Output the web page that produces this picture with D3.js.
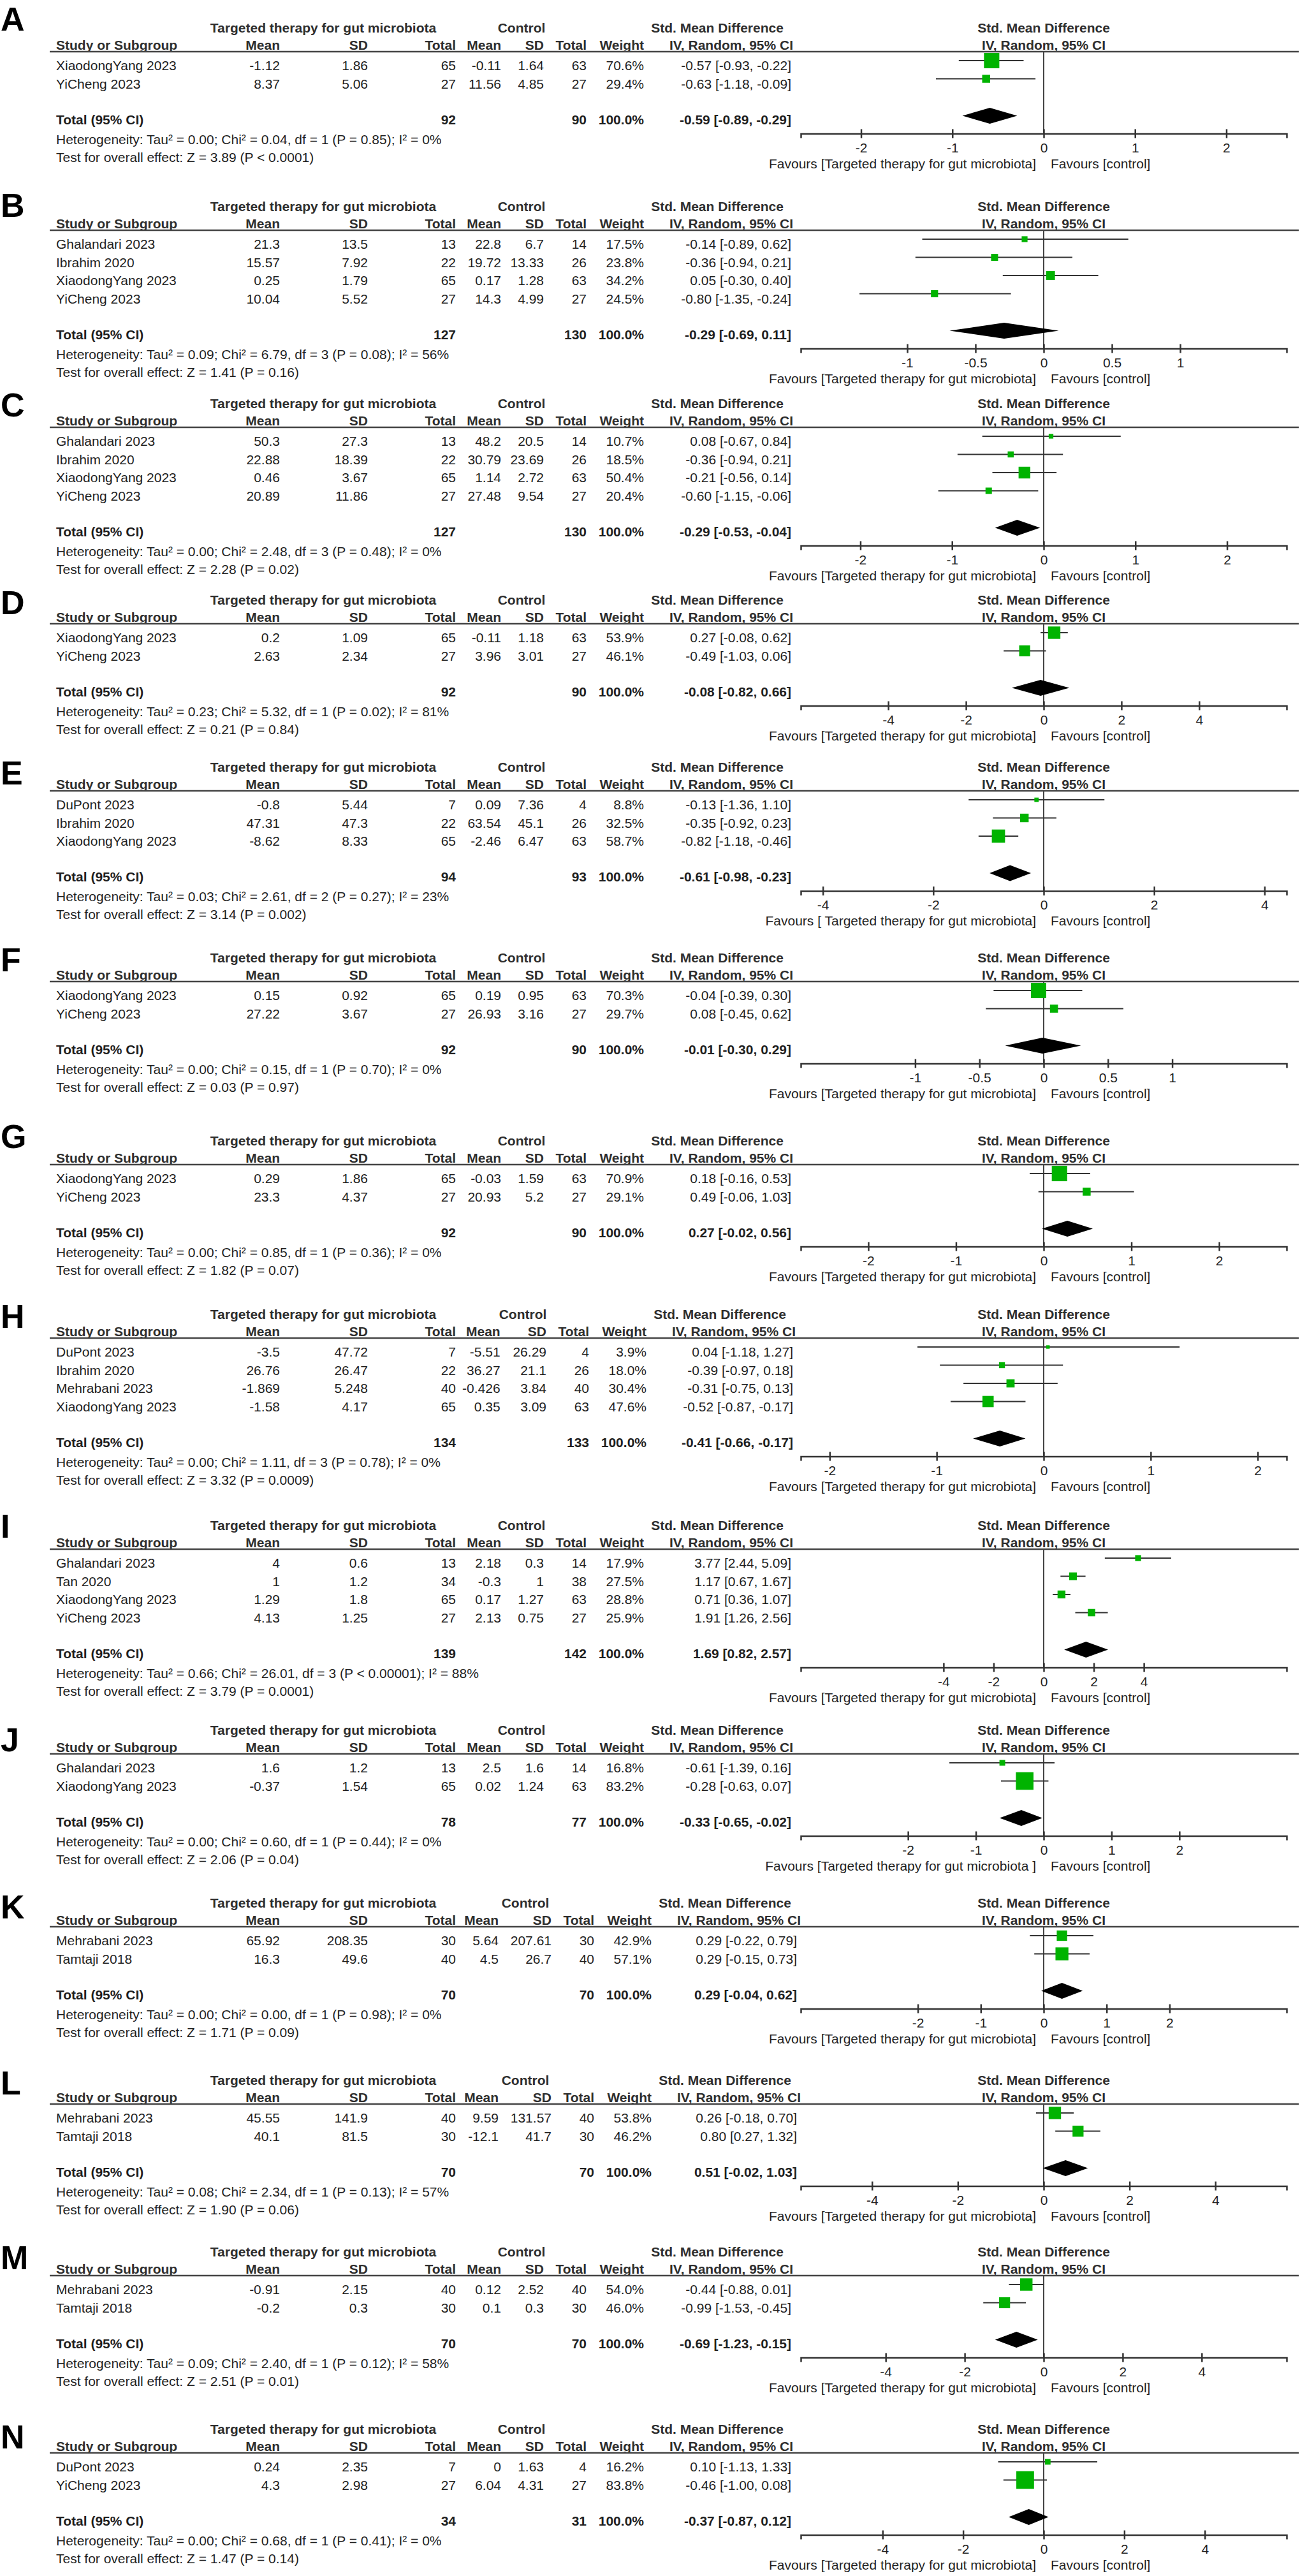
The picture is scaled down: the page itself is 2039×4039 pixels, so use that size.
<!DOCTYPE html>
<html lang="en">
<head>
<meta charset="UTF-8">
<title>Forest plots A-N</title>
<style>
  body { margin: 0; background: #fff; }
  svg text { font-family: 'Liberation Sans', Arial, sans-serif; fill: #1f1f1f; }
  .hd { font-weight: bold; fill: #2e2e2e; }
  .bold { font-weight: bold; }
  .letter { font-weight: bold; font-size: 52px; fill: #000; }
</style>
</head>
<body>
<div id="chart"></div>
<script src="https://d3js.org/d3.v7.min.js"></script>
<script>
// ---- data: rows are [study, mean, sd, total, mean ctrl, sd ctrl, total ctrl, weight, smd, lo, hi]
const rowsA = [
  ["XiaodongYang 2023", "-1.12", "1.86", 65, "-0.11", "1.64", 63, 70.6, -0.57, -0.93, -0.22],
  ["YiCheng 2023", "8.37", "5.06", 27, "11.56", "4.85", 27, 29.4, -0.63, -1.18, -0.09]
];
const totalA = [92, 90, -0.59, -0.89, -0.29];
const statsA = ["Heterogeneity: Tau² = 0.00; Chi² = 0.04, df = 1 (P = 0.85); I² = 0%", "Test for overall effect: Z = 3.89 (P < 0.0001)"];
const ticksA = [-2, -1, 0, 1, 2];

const rowsB = [
  ["Ghalandari 2023", "21.3", "13.5", 13, "22.8", "6.7", 14, 17.5, -0.14, -0.89, 0.62],
  ["Ibrahim 2020", "15.57", "7.92", 22, "19.72", "13.33", 26, 23.8, -0.36, -0.94, 0.21],
  ["XiaodongYang 2023", "0.25", "1.79", 65, "0.17", "1.28", 63, 34.2, 0.05, -0.30, 0.40],
  ["YiCheng 2023", "10.04", "5.52", 27, "14.3", "4.99", 27, 24.5, -0.80, -1.35, -0.24]
];
const totalB = [127, 130, -0.29, -0.69, 0.11];
const statsB = ["Heterogeneity: Tau² = 0.09; Chi² = 6.79, df = 3 (P = 0.08); I² = 56%", "Test for overall effect: Z = 1.41 (P = 0.16)"];
const ticksB = [-1, -0.5, 0, 0.5, 1];

const rowsC = [
  ["Ghalandari 2023", "50.3", "27.3", 13, "48.2", "20.5", 14, 10.7, 0.08, -0.67, 0.84],
  ["Ibrahim 2020", "22.88", "18.39", 22, "30.79", "23.69", 26, 18.5, -0.36, -0.94, 0.21],
  ["XiaodongYang 2023", "0.46", "3.67", 65, "1.14", "2.72", 63, 50.4, -0.21, -0.56, 0.14],
  ["YiCheng 2023", "20.89", "11.86", 27, "27.48", "9.54", 27, 20.4, -0.60, -1.15, -0.06]
];
const totalC = [127, 130, -0.29, -0.53, -0.04];
const statsC = ["Heterogeneity: Tau² = 0.00; Chi² = 2.48, df = 3 (P = 0.48); I² = 0%", "Test for overall effect: Z = 2.28 (P = 0.02)"];
const ticksC = [-2, -1, 0, 1, 2];

const rowsD = [
  ["XiaodongYang 2023", "0.2", "1.09", 65, "-0.11", "1.18", 63, 53.9, 0.27, -0.08, 0.62],
  ["YiCheng 2023", "2.63", "2.34", 27, "3.96", "3.01", 27, 46.1, -0.49, -1.03, 0.06]
];
const totalD = [92, 90, -0.08, -0.82, 0.66];
const statsD = ["Heterogeneity: Tau² = 0.23; Chi² = 5.32, df = 1 (P = 0.02); I² = 81%", "Test for overall effect: Z = 0.21 (P = 0.84)"];
const ticksD = [-4, -2, 0, 2, 4];

const rowsE = [
  ["DuPont 2023", "-0.8", "5.44", 7, "0.09", "7.36", 4, 8.8, -0.13, -1.36, 1.10],
  ["Ibrahim 2020", "47.31", "47.3", 22, "63.54", "45.1", 26, 32.5, -0.35, -0.92, 0.23],
  ["XiaodongYang 2023", "-8.62", "8.33", 65, "-2.46", "6.47", 63, 58.7, -0.82, -1.18, -0.46]
];
const totalE = [94, 93, -0.61, -0.98, -0.23];
const statsE = ["Heterogeneity: Tau² = 0.03; Chi² = 2.61, df = 2 (P = 0.27); I² = 23%", "Test for overall effect: Z = 3.14 (P = 0.002)"];
const ticksE = [-4, -2, 0, 2, 4];

const rowsF = [
  ["XiaodongYang 2023", "0.15", "0.92", 65, "0.19", "0.95", 63, 70.3, -0.04, -0.39, 0.30],
  ["YiCheng 2023", "27.22", "3.67", 27, "26.93", "3.16", 27, 29.7, 0.08, -0.45, 0.62]
];
const totalF = [92, 90, -0.01, -0.30, 0.29];
const statsF = ["Heterogeneity: Tau² = 0.00; Chi² = 0.15, df = 1 (P = 0.70); I² = 0%", "Test for overall effect: Z = 0.03 (P = 0.97)"];
const ticksF = [-1, -0.5, 0, 0.5, 1];

const rowsG = [
  ["XiaodongYang 2023", "0.29", "1.86", 65, "-0.03", "1.59", 63, 70.9, 0.18, -0.16, 0.53],
  ["YiCheng 2023", "23.3", "4.37", 27, "20.93", "5.2", 27, 29.1, 0.49, -0.06, 1.03]
];
const totalG = [92, 90, 0.27, -0.02, 0.56];
const statsG = ["Heterogeneity: Tau² = 0.00; Chi² = 0.85, df = 1 (P = 0.36); I² = 0%", "Test for overall effect: Z = 1.82 (P = 0.07)"];
const ticksG = [-2, -1, 0, 1, 2];

const rowsH = [
  ["DuPont 2023", "-3.5", "47.72", 7, "-5.51", "26.29", 4, 3.9, 0.04, -1.18, 1.27],
  ["Ibrahim 2020", "26.76", "26.47", 22, "36.27", "21.1", 26, 18.0, -0.39, -0.97, 0.18],
  ["Mehrabani 2023", "-1.869", "5.248", 40, "-0.426", "3.84", 40, 30.4, -0.31, -0.75, 0.13],
  ["XiaodongYang 2023", "-1.58", "4.17", 65, "0.35", "3.09", 63, 47.6, -0.52, -0.87, -0.17]
];
const totalH = [134, 133, -0.41, -0.66, -0.17];
const statsH = ["Heterogeneity: Tau² = 0.00; Chi² = 1.11, df = 3 (P = 0.78); I² = 0%", "Test for overall effect: Z = 3.32 (P = 0.0009)"];
const ticksH = [-2, -1, 0, 1, 2];

const rowsI = [
  ["Ghalandari 2023", "4", "0.6", 13, "2.18", "0.3", 14, 17.9, 3.77, 2.44, 5.09],
  ["Tan 2020", "1", "1.2", 34, "-0.3", "1", 38, 27.5, 1.17, 0.67, 1.67],
  ["XiaodongYang 2023", "1.29", "1.8", 65, "0.17", "1.27", 63, 28.8, 0.71, 0.36, 1.07],
  ["YiCheng 2023", "4.13", "1.25", 27, "2.13", "0.75", 27, 25.9, 1.91, 1.26, 2.56]
];
const totalI = [139, 142, 1.69, 0.82, 2.57];
const statsI = ["Heterogeneity: Tau² = 0.66; Chi² = 26.01, df = 3 (P < 0.00001); I² = 88%", "Test for overall effect: Z = 3.79 (P = 0.0001)"];
const ticksI = [-4, -2, 0, 2, 4];

const rowsJ = [
  ["Ghalandari 2023", "1.6", "1.2", 13, "2.5", "1.6", 14, 16.8, -0.61, -1.39, 0.16],
  ["XiaodongYang 2023", "-0.37", "1.54", 65, "0.02", "1.24", 63, 83.2, -0.28, -0.63, 0.07]
];
const totalJ = [78, 77, -0.33, -0.65, -0.02];
const statsJ = ["Heterogeneity: Tau² = 0.00; Chi² = 0.60, df = 1 (P = 0.44); I² = 0%", "Test for overall effect: Z = 2.06 (P = 0.04)"];
const ticksJ = [-2, -1, 0, 1, 2];

const rowsK = [
  ["Mehrabani 2023", "65.92", "208.35", 30, "5.64", "207.61", 30, 42.9, 0.29, -0.22, 0.79],
  ["Tamtaji 2018", "16.3", "49.6", 40, "4.5", "26.7", 40, 57.1, 0.29, -0.15, 0.73]
];
const totalK = [70, 70, 0.29, -0.04, 0.62];
const statsK = ["Heterogeneity: Tau² = 0.00; Chi² = 0.00, df = 1 (P = 0.98); I² = 0%", "Test for overall effect: Z = 1.71 (P = 0.09)"];
const ticksK = [-2, -1, 0, 1, 2];

const rowsL = [
  ["Mehrabani 2023", "45.55", "141.9", 40, "9.59", "131.57", 40, 53.8, 0.26, -0.18, 0.70],
  ["Tamtaji 2018", "40.1", "81.5", 30, "-12.1", "41.7", 30, 46.2, 0.80, 0.27, 1.32]
];
const totalL = [70, 70, 0.51, -0.02, 1.03];
const statsL = ["Heterogeneity: Tau² = 0.08; Chi² = 2.34, df = 1 (P = 0.13); I² = 57%", "Test for overall effect: Z = 1.90 (P = 0.06)"];
const ticksL = [-4, -2, 0, 2, 4];

const rowsM = [
  ["Mehrabani 2023", "-0.91", "2.15", 40, "0.12", "2.52", 40, 54.0, -0.44, -0.88, 0.01],
  ["Tamtaji 2018", "-0.2", "0.3", 30, "0.1", "0.3", 30, 46.0, -0.99, -1.53, -0.45]
];
const totalM = [70, 70, -0.69, -1.23, -0.15];
const statsM = ["Heterogeneity: Tau² = 0.09; Chi² = 2.40, df = 1 (P = 0.12); I² = 58%", "Test for overall effect: Z = 2.51 (P = 0.01)"];
const ticksM = [-4, -2, 0, 2, 4];

const rowsN = [
  ["DuPont 2023", "0.24", "2.35", 7, "0", "1.63", 4, 16.2, 0.10, -1.13, 1.33],
  ["YiCheng 2023", "4.3", "2.98", 27, "6.04", "4.31", 27, 83.8, -0.46, -1.00, 0.08]
];
const totalN = [34, 31, -0.37, -0.87, 0.12];
const statsN = ["Heterogeneity: Tau² = 0.00; Chi² = 0.68, df = 1 (P = 0.41); I² = 0%", "Test for overall effect: Z = 1.47 (P = 0.14)"];
const ticksN = [-4, -2, 0, 2, 4];

// half-width of each plot's x domain (std. mean difference units)
const axisMax = [2.66, 1.78, 2.65, 6.25, 4.4, 1.89, 2.77, 2.27, 9.7, 3.58, 3.86, 5.66, 6.15, 6.03];

const favLeft = "Favours [Targeted therapy for gut microbiota]";
const favLeftE = "Favours [ Targeted therapy for gut microbiota]";
const favLeftJ = "Favours [Targeted therapy for gut microbiota ]";
const favRight = "Favours [control]";

const panels = [
  { id: "A", rows: rowsA, total: totalA, stats: statsA, ticks: ticksA, fav: favLeft },
  { id: "B", rows: rowsB, total: totalB, stats: statsB, ticks: ticksB, fav: favLeft },
  { id: "C", rows: rowsC, total: totalC, stats: statsC, ticks: ticksC, fav: favLeft },
  { id: "D", rows: rowsD, total: totalD, stats: statsD, ticks: ticksD, fav: favLeft },
  { id: "E", rows: rowsE, total: totalE, stats: statsE, ticks: ticksE, fav: favLeftE },
  { id: "F", rows: rowsF, total: totalF, stats: statsF, ticks: ticksF, fav: favLeft },
  { id: "G", rows: rowsG, total: totalG, stats: statsG, ticks: ticksG, fav: favLeft },
  { id: "H", rows: rowsH, total: totalH, stats: statsH, ticks: ticksH, fav: favLeft },
  { id: "I", rows: rowsI, total: totalI, stats: statsI, ticks: ticksI, fav: favLeft },
  { id: "J", rows: rowsJ, total: totalJ, stats: statsJ, ticks: ticksJ, fav: favLeftJ },
  { id: "K", rows: rowsK, total: totalK, stats: statsK, ticks: ticksK, fav: favLeft },
  { id: "L", rows: rowsL, total: totalL, stats: statsL, ticks: ticksL, fav: favLeft },
  { id: "M", rows: rowsM, total: totalM, stats: statsM, ticks: ticksM, fav: favLeft },
  { id: "N", rows: rowsN, total: totalN, stats: statsN, ticks: ticksN, fav: favLeft }
];

// ---- layout
const W = 2039, H = 4039;
const headY = [81, 361, 670, 978, 1240, 1539, 1826, 2098, 2429, 2750, 3021, 3299, 3568, 3846]; // header rule of each panel
const letterY = [48, 340, 653, 963, 1230, 1523, 1800, 2082, 2411, 2746, 3008, 3284, 3558, 3839];
const colShift = [0, 0, 0, 0, 0, 0, 0, 4, 0, 0, 12, 12, 0, 0]; // wider control columns in some panels
const col = { study: 88, m1: 439, sd1: 577, n1: 715, m2: 786, sd2: 853, n2: 920, w: 1010, ci: 1241 };
const plotL = 1256, plotR = 2018;
const rowH = 28.5, fs = 21;

const green = "#00b300", ink = "#333";

const svg = d3.select("#chart").append("svg")
    .attr("width", W).attr("height", H)
    .style("display", "block");
svg.append("rect").attr("width", W).attr("height", H).attr("fill", "#fff");

const sq = d3.scaleLinear().domain([0, 100]).range([4.3, 32.3]);
const f2 = d3.format(".2f");
const ciText = (e, lo, hi) => `${f2(e)} [${f2(lo)}, ${f2(hi)}]`.replace(/−/g, "-");

panels.forEach((p, i) => {
    const y0 = headY[i];
    const s = colShift[i];
    const c = { study: col.study, m1: col.m1, sd1: col.sd1, n1: col.n1, m2: col.m2 - s / 3,
                sd2: col.sd2 + s, n2: col.n2 + s, w: col.w + s, ci: col.ci + s * 0.75 };
    const g = svg.append("g").attr("font-size", fs);
    const x = d3.scaleLinear().domain([-axisMax[i], axisMax[i]]).range([plotL, plotR]);
    const xc = (plotL + plotR) / 2;

    g.append("text").attr("class", "letter").attr("x", 1).attr("y", letterY[i]).text(p.id);

    // group headers
    const hd = (t, xx, yy, anchor) => g.append("text").attr("class", "hd")
        .attr("x", xx).attr("y", yy).attr("text-anchor", anchor).text(t);
    hd("Targeted therapy for gut microbiota", 507, y0 - 30, "middle");
    hd("Control", 818 + s / 2, y0 - 30, "middle");
    hd("Std. Mean Difference", 1125 + s, y0 - 30, "middle");
    hd("Std. Mean Difference", xc, y0 - 30, "middle");
    hd("Study or Subgroup", c.study, y0 - 3, "start");
    [["Mean", c.m1], ["SD", c.sd1], ["Total", c.n1], ["Mean", c.m2], ["SD", c.sd2], ["Total", c.n2], ["Weight", c.w]]
        .forEach(([t, xx]) => hd(t, xx, y0 - 3, "end"));
    hd("IV, Random, 95% CI", 1147 + s, y0 - 3, "middle");
    hd("IV, Random, 95% CI", xc, y0 - 3, "middle");

    g.append("line").attr("x1", 78).attr("x2", W - 2).attr("y1", y0).attr("y2", y0)
        .attr("stroke", "#444").attr("stroke-width", 2.5);

    const rowY = k => y0 + 29 + k * rowH;
    const totY = rowY(p.rows.length - 1) + 56;
    const axisY = totY + 15;

    // study rows
    const rg = g.selectAll("g.row").data(p.rows).join("g").attr("class", "row")
        .attr("transform", (d, k) => `translate(0,${rowY(k)})`);
    rg.append("text").attr("x", c.study).text(d => d[0]);
    [[1, c.m1], [2, c.sd1], [3, c.n1], [4, c.m2], [5, c.sd2], [6, c.n2]].forEach(([k, xx]) => {
        rg.append("text").attr("x", xx).attr("text-anchor", "end").text(d => d[k]);
    });
    rg.append("text").attr("x", c.w).attr("text-anchor", "end").text(d => d[7].toFixed(1) + "%");
    rg.append("text").attr("x", c.ci).attr("text-anchor", "end").text(d => ciText(d[8], d[9], d[10]));

    // total row
    const t = p.total;
    const tg = g.append("g").attr("class", "bold").attr("transform", `translate(0,${totY})`);
    tg.append("text").attr("x", c.study).text("Total (95% CI)");
    tg.append("text").attr("x", c.n1).attr("text-anchor", "end").text(t[0]);
    tg.append("text").attr("x", c.n2).attr("text-anchor", "end").text(t[1]);
    tg.append("text").attr("x", c.w).attr("text-anchor", "end").text("100.0%");
    tg.append("text").attr("x", c.ci).attr("text-anchor", "end").text(ciText(t[2], t[3], t[4]));

    g.append("text").attr("x", c.study).attr("y", totY + 31).text(p.stats[0]);
    g.append("text").attr("x", c.study).attr("y", totY + 59).text(p.stats[1]);

    // zero line
    g.append("line").attr("x1", x(0)).attr("x2", x(0)).attr("y1", y0).attr("y2", axisY)
        .attr("stroke", "#444").attr("stroke-width", 2);

    // CI lines and squares
    const mg = g.selectAll("g.mk").data(p.rows).join("g").attr("class", "mk")
        .attr("transform", (d, k) => `translate(0,${rowY(k) - 15})`);
    mg.append("line").attr("x1", d => x(d[9])).attr("x2", d => x(d[10]))
        .attr("stroke", ink).attr("stroke-width", 2);
    mg.append("rect")
        .attr("x", d => x(d[8]) - sq(d[7]) / 2).attr("y", d => -sq(d[7]) / 2)
        .attr("width", d => sq(d[7])).attr("height", d => sq(d[7]))
        .attr("fill", green);

    // pooled diamond
    const dy = totY - 13;
    g.append("path")
        .attr("d", `M${x(t[3])},${dy}L${x(t[2])},${dy - 12.5}L${x(t[4])},${dy}L${x(t[2])},${dy + 12.5}Z`)
        .attr("fill", "#000");

    // axis
    const ax = g.append("g").attr("transform", `translate(0,${axisY})`)
        .call(d3.axisBottom(x).tickValues(p.ticks).tickSizeOuter(0).tickSize(7).tickFormat(d => String(d)));
    ax.select(".domain").attr("stroke", ink).attr("stroke-width", 2.5);
    ax.selectAll(".tick line").attr("y1", -7).attr("y2", 7).attr("stroke", ink).attr("stroke-width", 2.5);
    ax.selectAll(".tick text").attr("y", 29).attr("dy", null)
        .attr("font-size", fs).attr("font-family", "'Liberation Sans', Arial, sans-serif").attr("fill", "#1f1f1f");

    g.append("text").attr("x", x(0) - 12).attr("y", axisY + 54).attr("text-anchor", "end").text(p.fav);
    g.append("text").attr("x", x(0) + 11).attr("y", axisY + 54).text(favRight);
});
</script>
</body>
</html>
